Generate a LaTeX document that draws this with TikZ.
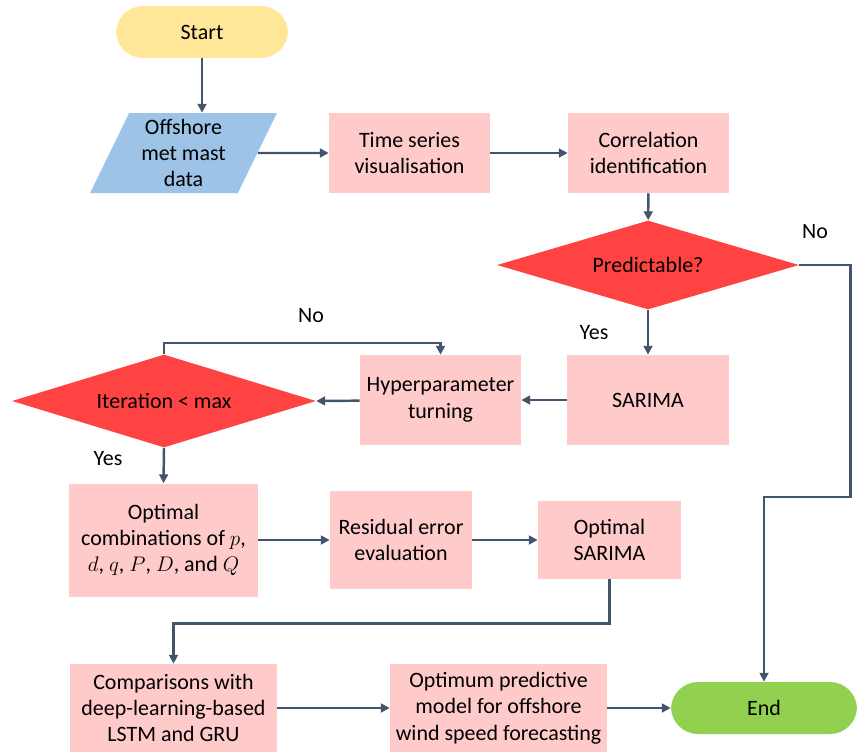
\documentclass[tikz,border=0pt]{standalone}
\usepackage{fontspec}
\setmainfont{Carlito}
\usetikzlibrary{arrows.meta,positioning,calc,shapes.geometric}
\definecolor{linec}{HTML}{44546A}
\definecolor{boxc}{HTML}{FFCACA}
\definecolor{decc}{HTML}{FF4343}
\definecolor{startc}{HTML}{FFE699}
\definecolor{endc}{HTML}{92D050}
\definecolor{datac}{HTML}{9DC3E6}

\begin{document}
\begin{tikzpicture}[x=0.02cm,y=-0.02cm,>={Triangle[length=5pt,width=5pt]},font=\fontsize{12.5}{15}\selectfont]
\tikzstyle{b}=[fill=boxc,align=center,inner sep=2pt]
\tikzstyle{dec}=[diamond,aspect=3.4,fill=decc,inner sep=0pt,align=center]
\tikzstyle{term}=[rounded corners=0.54cm,minimum height=1.04cm,align=center]
\tikzstyle{l}=[draw=linec,line width=1.4pt]
\useasboundingbox (0,0) rectangle (857,751);
\node[term,fill=startc,minimum width=3.44cm] (start) at (202,32) {Start};
\node[trapezium,trapezium left angle=66,trapezium right angle=114,trapezium stretches=true,fill=datac,minimum width=3.74cm,minimum height=1.6cm,align=center,inner sep=0pt] (data) at (183.5,153) {Offshore\\ met mast\\ data};
\node[b,minimum width=3.22cm,minimum height=1.6cm] (ts) at (409.5,153) {Time series\\ visualisation};
\node[b,minimum width=3.22cm,minimum height=1.6cm] (corr) at (648.5,153) {Correlation\\ identification};
\node[dec,minimum width=6.04cm,minimum height=1.78cm] (pred) at (648,265) {Predictable?};
\node[b,minimum width=3.24cm,minimum height=1.8cm] (sarima) at (648,400) {SARIMA};
\node[b,minimum width=3.22cm,minimum height=1.8cm] (hyper) at (440.5,400) {Hyperparameter\\ turning};
\node[dec,minimum width=6.08cm,minimum height=1.86cm] (iter) at (164,401) {Iteration {<} max};
\node[b,minimum width=3.78cm,minimum height=2.26cm] (combo) at (163.5,540) {Optimal\\ combinations of $p$,\\ $d$, $q$, $P$, $D$, and $Q$};
\node[b,minimum width=2.84cm,minimum height=1.96cm] (resid) at (401,540) {Residual error\\ evaluation};
\node[b,minimum width=2.86cm,minimum height=1.56cm] (optsar) at (609.5,540) {Optimal\\ SARIMA};
\node[b,minimum width=4.14cm,minimum height=1.76cm] (comp) at (173.5,708) {Comparisons with\\ deep-learning-based\\ LSTM and GRU};
\node[b,minimum width=4.34cm,minimum height=1.76cm] (optm) at (498.5,708) {Optimum predictive\\ model for offshore\\ wind speed forecasting};
\node[term,fill=endc,minimum width=3.72cm] (end) at (764,708) {End};
\node (no1) at (815,232) {No}; \node (yes1) at (594,333) {Yes};
\node (no2) at (311,316) {No}; \node (yes2) at (108,459) {Yes};
\draw[l,->] (start.south) -- (start.south |- data.north); \draw[l,->] (data.east) -- (ts.west); \draw[l,->] (ts) -- (corr);
\draw[l,->] (corr) -- (pred); \draw[l,->] (pred) -- (sarima); \draw[l,->] (sarima) -- (hyper); \draw[l,->] (hyper) -- (iter.east);
\draw[l,->] (pred.east) -- ++(51,0) -- ++(0,232) -| (end.north);
\draw[l,->] (iter.north) -- ++(0,-11) -| (hyper.north);
\draw[l,->] (iter.south) -- (combo.north); \draw[l,->] (combo.east) -- (resid.west); \draw[l,->] (resid.east) -- (optsar.west);
\draw[l,->] (optsar.south) -- ++(0,44) -| (comp.north);
\draw[l,->] (comp.east) -- (optm.west); \draw[l,->] (optm.east) -- (end.west);
\end{tikzpicture}
\end{document}
